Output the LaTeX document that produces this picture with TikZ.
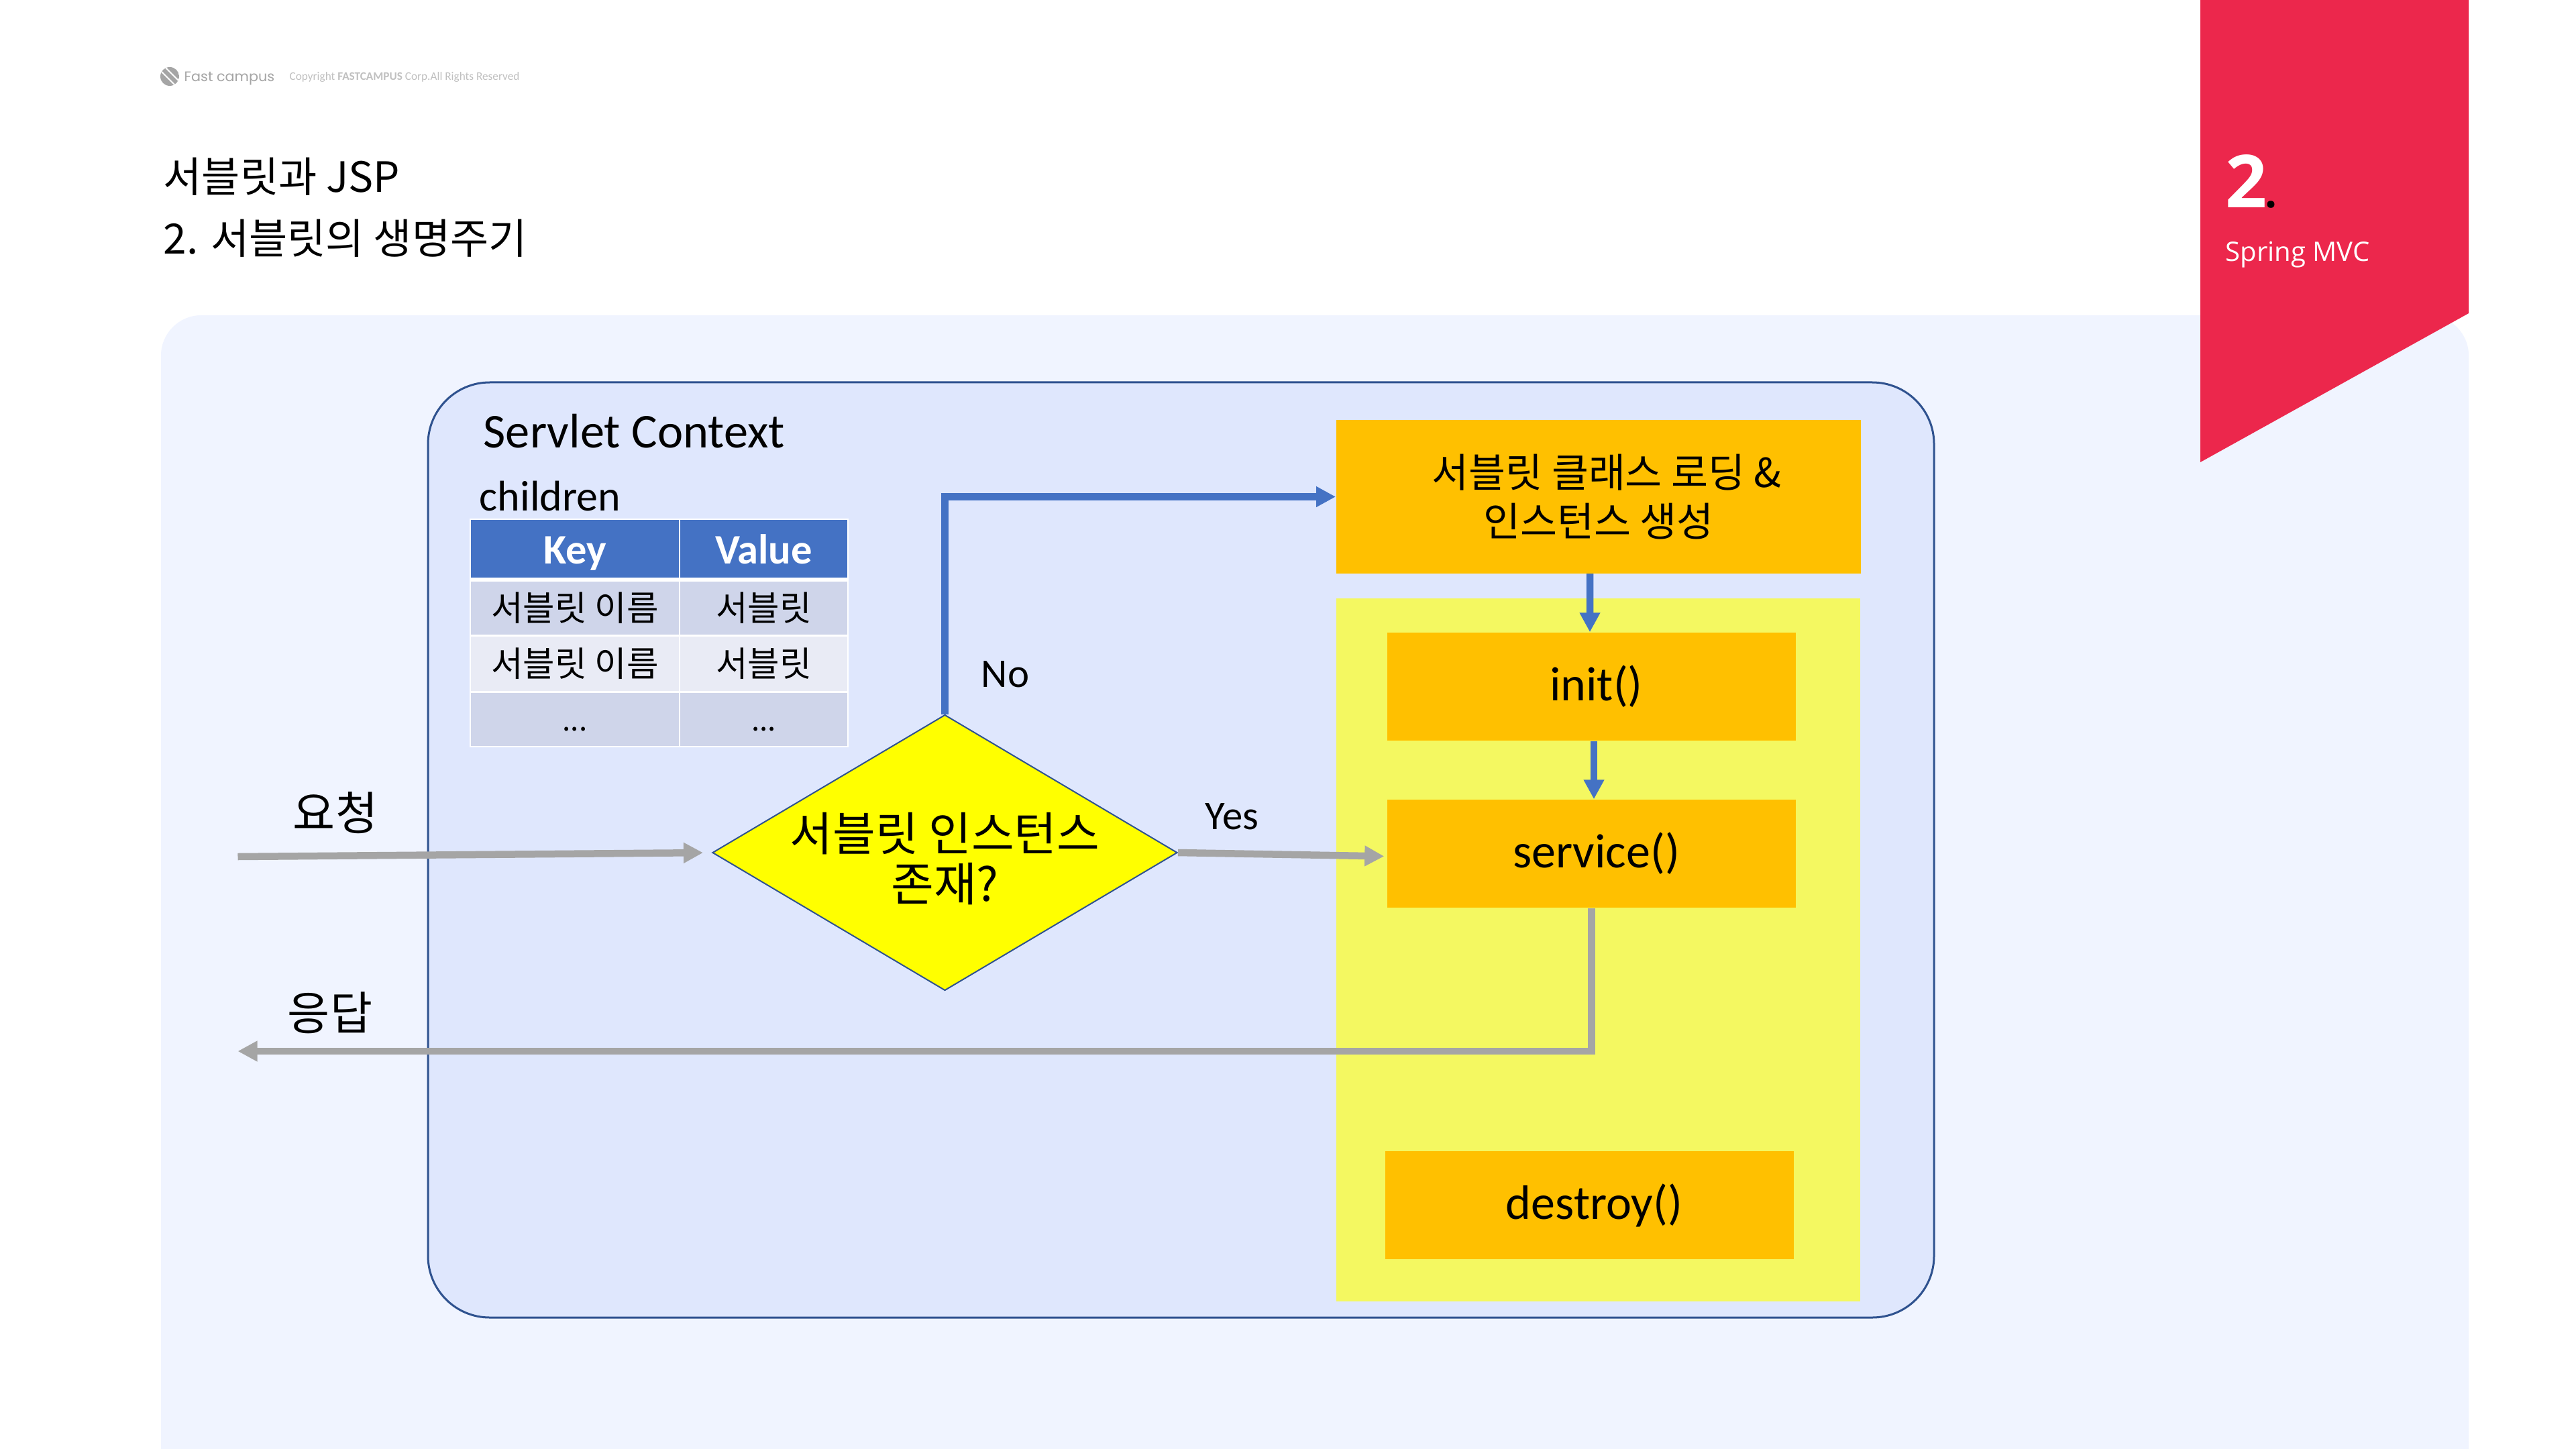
\documentclass[tikz,border=0pt]{standalone}
\usepackage{xcolor}
\usepackage{fontspec}
\usepackage{tikz}
\usetikzlibrary{arrows.meta,shapes.geometric}
\setmainfont{Carlito}
\newfontfamily\krfont{Noto Sans CJK KR}
\newfontfamily\tagfont{Open Sans}
\newfontfamily\logofont{Poppins}
\newcommand{\pts}[1]{\fontsize{#1}{#1}\selectfont}
\definecolor{panelbg}{HTML}{F0F4FF}
\definecolor{contextbg}{HTML}{DFE7FD}
\definecolor{contextline}{HTML}{2F528F}
\definecolor{lifebg}{HTML}{F4F861}
\definecolor{stepfill}{HTML}{FFC000}
\definecolor{flowblue}{HTML}{4472C4}
\definecolor{flowgray}{HTML}{A5A5A5}
\definecolor{tagred}{HTML}{EC274C}
\definecolor{rowdark}{HTML}{CFD5EA}
\definecolor{rowlight}{HTML}{E9EBF5}
\definecolor{decisionfill}{HTML}{FFFF00}
\tikzset{
  stepbox/.style={fill=stepfill, inner sep=0pt, align=center, minimum width=6.09cm, minimum height=1.61cm},
  krtext/.style={font=\krfont\pts{19.5}, inner sep=0pt, align=center},
  latintext/.style={font=\pts{17.3}, inner sep=0pt, anchor=base west},
  keycell/.style={minimum width=3.10cm, inner sep=0pt},
  valuecell/.style={minimum width=2.49cm, inner sep=0pt},
  headcell/.style={fill=flowblue, text=white, font=\bfseries\pts{17.8}, minimum height=0.86cm, text height=0.5cm, text depth=0.06cm},
  bodycell/.style={font=\krfont\pts{14.7}},
  flowtip/.style={-{Triangle[length=0.29cm,width=0.29cm]}, line width=0.105cm},
  grayflow/.style={flowtip, draw=flowgray},
  blueflow/.style={flowtip, draw=flowblue}
}
\begin{document}
\begin{tikzpicture}[x=1cm,y=-1cm]
    \useasboundingbox (0,0) rectangle (38.4,21.6);
    \fill[white] (0,0) rectangle (38.4,21.6);

    % Draw the page panel and the red tag
    \fill[panelbg, rounded corners=0.6cm] (2.40,4.70) rectangle (36.80,23);
    \fill[tagred] (32.80,0) -- (36.80,0) -- (36.80,4.67) -- (32.80,6.89) -- cycle;
    \node[font=\tagfont\bfseries\pts{31}, text=white, inner sep=0pt, anchor=base west] (tagnum) at (33.17,3.10) {2\hspace{-0.03cm}\textcolor{black}{\pts{18}.}};
    \node[font=\tagfont\pts{11.4}, text=white, inner sep=0pt, anchor=base west] (tagname) at (33.17,3.90) {Spring MVC};

    % Add the logo line and the titles
    \begin{scope}
        \clip (2.53,1.14) circle (0.14);
        \fill[flowgray] (2.39,1.00) rectangle (2.67,1.28);
        \draw[white, line width=0.02cm] (2.40,1.06) -- (2.62,1.28);
        \draw[white, line width=0.02cm] (2.46,1.00) -- (2.68,1.22);
    \end{scope}
    \node[font=\logofont\pts{5.9}, text=flowgray, inner sep=0pt, anchor=base west] (logoname) at (2.74,1.22) {Fast campus};
    \node[font=\pts{4.9}, text=flowgray!70, inner sep=0pt, anchor=base west] (copyline) at (4.31,1.20) {Copyright \textbf{FASTCAMPUS} Corp.All Rights Reserved};
    \node[krtext, font=\krfont\pts{17.7}, anchor=base west] (titleone) at (2.43,2.87) {서블릿과 JSP};
    \node[krtext, font=\krfont\pts{17.7}, anchor=base west] (titletwo) at (2.43,3.79) {2. 서블릿의 생명주기};

    % Draw the servlet context
    \draw[fill=contextbg, draw=contextline, line width=0.03cm, rounded corners=0.92cm] (6.38,5.70) rectangle (28.83,19.64);
    \node[latintext, font=\pts{20.6}] (contextname) at (7.20,6.68) {Servlet Context};
    \node[latintext, font=\pts{18.2}] (childrenname) at (7.14,7.61) {children};

    % Add the children table
    \node[fill=white, minimum width=5.65cm, minimum height=3.41cm, inner sep=0pt] (tableback) at (9.825,9.43) {};
    \node[keycell, headcell] (keyhead) at (8.57,8.18) {Key};
    \node[valuecell, headcell] (valuehead) at (11.385,8.18) {Value};
    \node[keycell, bodycell, fill=rowdark, minimum height=0.79cm] (keyone) at (8.57,9.065) {서블릿 이름};
    \node[valuecell, bodycell, fill=rowdark, minimum height=0.79cm] (valueone) at (11.385,9.065) {서블릿};
    \node[keycell, bodycell, fill=rowlight, minimum height=0.81cm] (keytwo) at (8.57,9.895) {서블릿 이름};
    \node[valuecell, bodycell, fill=rowlight, minimum height=0.81cm] (valuetwo) at (11.385,9.895) {서블릿};
    \node[keycell, bodycell, fill=rowdark, minimum height=0.79cm] (keythree) at (8.57,10.725) {\smash{\raisebox{-0.17cm}{\pts{12.5}...}}};
    \node[valuecell, bodycell, fill=rowdark, minimum height=0.79cm] (valuethree) at (11.385,10.725) {\smash{\raisebox{-0.17cm}{\pts{12.5}...}}};

    % Draw the life cycle boxes
    \fill[lifebg] (19.92,8.92) rectangle (27.73,19.40);
    \node[stepbox, krtext, font=\krfont\pts{17}, minimum width=7.825cm, minimum height=2.28cm] (classbox) at (23.83,7.405) {\hspace*{0.24cm}서블릿 클래스 로딩 \&\\[0.13cm]인스턴스 생성};
    \node[stepbox, font=\pts{20.5}] (initbox) at (23.725,10.235) {\hspace*{0.14cm}init()};
    \node[stepbox, font=\pts{20.5}] (servicebox) at (23.725,12.725) {\hspace*{0.14cm}service()};
    \node[stepbox, font=\pts{20.5}] (destroybox) at (23.695,17.965) {\hspace*{0.14cm}destroy()};

    % Draw the decision
    \node[diamond, aspect=1.686, draw=contextline, line width=0.02cm, fill=decisionfill, minimum width=6.93cm, minimum height=4.11cm, inner sep=0pt] (decision) at (14.085,12.71) {};
    \node[krtext, font=\krfont\pts{19.7}] (decisiontext) at (14.085,12.80) {서블릿 인스턴스\\[0.06cm]존재?};

    % Add the connectors
    \coordinate (requeststart) at (3.545,12.77);
    \coordinate (responseend) at (3.545,15.67);
    \draw[grayflow, shorten >=0.13cm] (requeststart) -- (decision.west);
    \draw[grayflow, shorten >=0.04cm] (decision.east) -- ([yshift=-0.04cm]servicebox.west);
    \draw[grayflow] (servicebox.south) |- (responseend);
    \draw[blueflow] (decision.north) |- (classbox.west);
    \draw[blueflow] ([xshift=-0.13cm]classbox.south) -- ([xshift=-0.025cm]initbox.north);
    \draw[blueflow] ([xshift=0.035cm]initbox.south) -- ([xshift=0.035cm]servicebox.north);

    % Add connector labels
    \node[krtext] (requestlabel) at (5.00,12.12) {요청};
    \node[krtext] (responselabel) at (4.92,15.10) {응답};
    \node[latintext] (nolabel) at (14.62,10.24) {No};
    \node[latintext] (yeslabel) at (17.96,12.36) {Yes};
\end{tikzpicture}
\end{document}
